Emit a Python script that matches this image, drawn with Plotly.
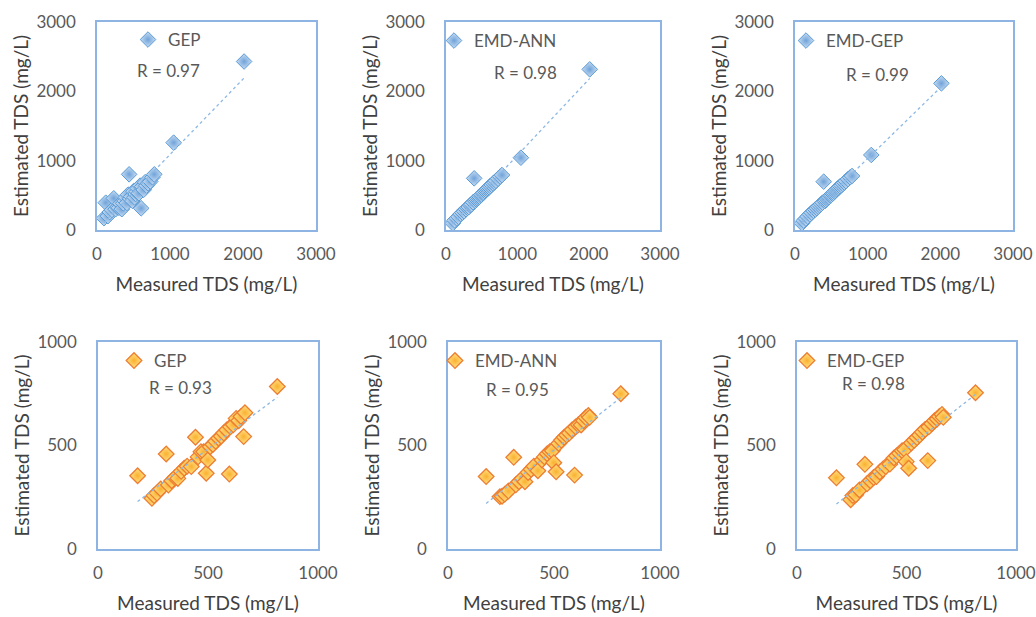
import numpy as np
import plotly.graph_objects as go

W, H = 1036, 617

# ---------------- data ----------------
train_measured = [95, 120, 150, 175, 205, 230, 255, 280, 300, 320, 340, 360, 380, 395,
                  410, 425, 440, 455, 470, 485, 500, 515, 530, 545, 560, 575, 590, 605,
                  620, 640, 660, 680, 700, 730, 760, 785, 1050, 2015]
gep_train = [170, 394, 200, 260, 290, 457, 300, 330, 320, 380, 300, 385, 420, 470,
             390, 510, 803, 450, 481, 420, 560, 470, 520, 553, 600, 530, 640, 313,
             625, 580, 690, 640, 673, 700, 760, 803, 1260, 2430]
emd_ann_train = [96, 140, 170, 190, 230, 250, 270, 300, 320, 330, 360, 370, 400, 745,
                 420, 440, 455, 470, 480, 500, 510, 530, 540, 560, 575, 590, 600, 615,
                 635, 650, 670, 690, 710, 740, 770, 793, 1043, 2317]
emd_gep_train = [96, 135, 165, 195, 225, 250, 275, 295, 315, 335, 355, 375, 395, 697,
                 415, 430, 450, 465, 475, 495, 505, 525, 535, 555, 570, 585, 600, 612,
                 630, 645, 665, 685, 705, 735, 760, 779, 1082, 2115]

test_measured = [180, 245, 255, 268, 285, 310, 320, 335, 350, 363, 378, 392, 405, 424,
                 443, 455, 468, 480, 492, 499, 510, 522, 535, 548, 560, 572, 585, 597,
                 602, 615, 628, 640, 650, 662, 668, 815]
gep_test = [354, 245, 258, 270, 290, 459, 309, 330, 345, 341, 375, 390, 400, 398,
            540, 445, 470, 470, 366, 430, 494, 505, 520, 535, 545, 560, 575, 362,
            590, 600, 631, 620, 640, 543, 658, 785]
emd_ann_test = [350, 253, 255, 265, 280, 443, 310, 325, 340, 325, 370, 385, 400, 378,
                430, 445, 460, 470, 475, 417, 373, 510, 525, 540, 550, 560, 575, 357,
                590, 600, 599, 620, 635, 645, 636, 750]
emd_gep_test = [344, 238, 258, 262, 285, 409, 315, 330, 345, 350, 372, 385, 398, 410,
                440, 450, 462, 475, 480, 422, 390, 512, 525, 538, 550, 565, 578, 427,
                590, 605, 620, 628, 640, 650, 636, 755]

model_names = ["GEP", "EMD-ANN", "EMD-GEP", "GEP", "EMD-ANN", "EMD-GEP"]
r_labels = ["R = 0.97", "R = 0.98", "R = 0.99", "R = 0.93", "R = 0.95", "R = 0.98"]
top_ticks = [0, 1000, 2000, 3000]
bottom_ticks = [0, 500, 1000]

series = [
    (train_measured, gep_train),
    (train_measured, emd_ann_train),
    (train_measured, emd_gep_train),
    (test_measured, gep_test),
    (test_measured, emd_ann_test),
    (test_measured, emd_gep_test),
]

# ---------------- layout geometry (pixels) ----------------
x_px = [(97, 316), (446, 660), (795, 1013), (98, 318), (448, 660), (797, 1016)]
y_px = [(230, 22), (230, 22), (230, 22), (549, 342), (549, 342), (549, 342)]
legend_px = [(128, 40), (434, 41), (786, 41), (114, 361), (435, 361), (787, 361)]
r_px = [(168, 71), (525, 72), (877, 74), (180, 387), (517, 389), (873, 383)]

BLUE = dict(center="#C9DDF2", edge="#6FA3DA", line="#5B9BD5", lw=1)
ORANGE = dict(center="#FFE285", edge="#FBB030", line="#ED7D31", lw=1.3)

FONT = "Lato, 'Open Sans', sans-serif"
fig = go.Figure()

for i in range(6):
    k = i + 1
    xs, ys = series[i]
    col = BLUE if i < 3 else ORANGE
    legname = "legend" if k == 1 else f"legend{k}"
    xa = "x" if k == 1 else f"x{k}"
    ya = "y" if k == 1 else f"y{k}"
    fig.add_trace(go.Scatter(
        x=xs, y=ys, mode="markers", name=model_names[i],
        marker=dict(symbol="diamond", size=12, color=col["center"],
                    gradient=dict(type="radial", color=col["edge"]),
                    line=dict(color=col["line"], width=col["lw"])),
        xaxis=xa, yaxis=ya, legend=legname, showlegend=True))
    slope, intercept = np.polyfit(xs, ys, 1)
    lx = [min(xs), max(xs)]
    ly = [slope * v + intercept for v in lx]
    fig.add_trace(go.Scatter(
        x=lx, y=ly, mode="lines", showlegend=False, hoverinfo="skip",
        line=dict(color="#8DB8E4", width=1.3, dash="dot"),
        xaxis=xa, yaxis=ya))

layout = dict(
    width=W, height=H,
    margin=dict(l=0, r=0, t=0, b=0, autoexpand=False),
    paper_bgcolor="white", plot_bgcolor="white",
    font=dict(family=FONT, color="#595959"),
    annotations=[],
)

for i in range(6):
    k = i + 1
    top = i < 3
    ticks = top_ticks if top else bottom_ticks
    rng = [0, ticks[-1]]
    (x0, x1), (y0, y1) = x_px[i], y_px[i]
    xkey = "xaxis" if k == 1 else f"xaxis{k}"
    ykey = "yaxis" if k == 1 else f"yaxis{k}"
    common = dict(
        range=rng, tickvals=ticks, showgrid=False, zeroline=False,
        showline=True, mirror=True, linecolor="#8DB4E2", linewidth=1.5,
        ticks="outside", tickcolor="rgba(0,0,0,0)", automargin=False,
        tickfont=dict(size=17, color="#595959", family=FONT),
        fixedrange=True,
    )
    layout[xkey] = dict(common, domain=[x0 / W, x1 / W], anchor="y" if k == 1 else f"y{k}",
                        ticklen=8,
                        title=dict(text="Measured TDS (mg/L)", standoff=15,
                                   font=dict(size=19, color="#404040", family=FONT)))
    layout[ykey] = dict(common, domain=[1 - y0 / H, 1 - y1 / H], anchor="x" if k == 1 else f"x{k}",
                        ticklen=16,
                        title=dict(text="Estimated TDS (mg/L)", standoff=3,
                                   font=dict(size=19, color="#404040", family=FONT)))
    lname = "legend" if k == 1 else f"legend{k}"
    lx, ly = legend_px[i]
    layout[lname] = dict(x=lx / W, y=1 - ly / H, xanchor="left", yanchor="middle",
                         bgcolor="rgba(0,0,0,0)", borderwidth=0,
                         font=dict(size=17, color="#595959", family=FONT),
                         itemwidth=30)
    rx, ry = r_px[i]
    layout["annotations"].append(dict(
        x=rx / W, y=1 - ry / H, xref="paper", yref="paper", text=r_labels[i],
        showarrow=False, xanchor="center", yanchor="middle",
        font=dict(size=17, color="#595959", family=FONT)))

fig.update_layout(**layout)
fig.write_html("out.html", config={"displayModeBar": False},
               post_script="document.body.style.margin='0px';document.body.style.overflow='hidden';")
